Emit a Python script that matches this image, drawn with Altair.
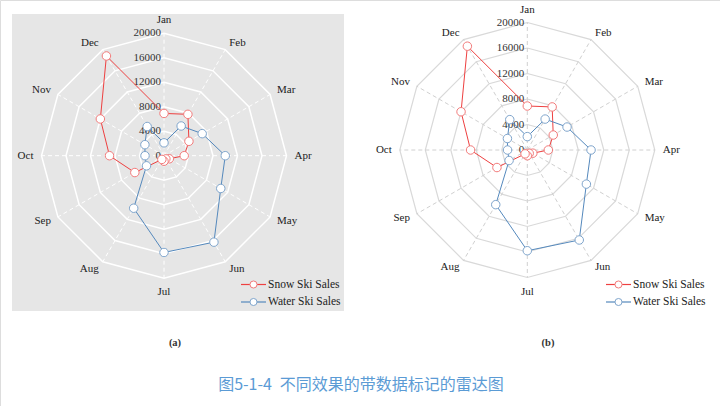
import altair as alt
import pandas as pd

months = ["Jan", "Feb", "Mar", "Apr", "May", "Jun", "Jul", "Aug", "Sep", "Oct", "Nov", "Dec"]
snow_sales = [6900, 7800, 4700, 3300, 1000, 600, 900, 700, 5500, 8900, 12000, 18800]
water_sales = [2100, 5600, 7200, 10000, 10700, 16300, 15800, 9900, 3300, 3100, 3600, 5500]
series_names = ["Snow Ski Sales", "Water Ski Sales"]
ticks = [0, 4000, 8000, 12000, 16000, 20000]
tick_labels = ["0", "4000", "8000", "12000", "16000", "20000"]
panel_labels = ["(a)", "(b)"]
caption = ["图5-1-4\u2002不同效果的带数据标记的雷达图"]

VMAX = 20000
SERIF = "Liberation Serif"
LINE_COLORS = ["#ee4040", "#5589bd"]
POINT_COLORS = ["#f27a7a", "#7fa5cc"]

# ---- tables built from the lists ----
rows = []
for name, vals in zip(series_names, [snow_sales, water_sales]):
    for k in range(13):
        i = k % 12
        rows.append({"series": name, "k": k, "idx": i, "month": months[i], "value": vals[i]})
series_df = pd.DataFrame(rows)

ring_df = pd.DataFrame([{"tick": t, "k": k} for t in ticks[1:] for k in range(13)])
spoke_df = pd.DataFrame({"idx": list(range(12)), "month": months})
tick_df = pd.DataFrame({"tick": ticks, "label": tick_labels})
legend_df = pd.DataFrame({"series": series_names, "i": [0, 1]})

xs = alt.Scale(domain=[0, 720], nice=False, zero=False)
ys = alt.Scale(domain=[0, 406], nice=False, zero=False, reverse=True)


def X(f="px"):
    return alt.X(f"{f}:Q", scale=xs, axis=None)


def Y(f="py"):
    return alt.Y(f"{f}:Q", scale=ys, axis=None)


def panel(cx, cy, R, grid_color, grid_width, spoke_color, lx, ly):
    layers = []
    ang = "PI / 6"
    # rings
    layers.append(
        alt.Chart(ring_df)
        .transform_calculate(
            px=f"{cx} + {R} * datum.tick / {VMAX} * sin(datum.k * {ang})",
            py=f"{cy} - {R} * datum.tick / {VMAX} * cos(datum.k * {ang})",
        )
        .mark_line(stroke=grid_color, strokeWidth=grid_width)
        .encode(x=X(), y=Y(), detail="tick:N", order="k:Q")
    )
    # spokes
    layers.append(
        alt.Chart(spoke_df)
        .transform_calculate(
            px=f"{cx}",
            py=f"{cy}",
            px2=f"{cx} + {R} * sin(datum.idx * {ang})",
            py2=f"{cy} - {R} * cos(datum.idx * {ang})",
        )
        .mark_rule(stroke=spoke_color, strokeWidth=1, strokeDash=[4, 3])
        .encode(x=X(), y=Y(), x2="px2:Q", y2="py2:Q")
    )
    # tick labels
    layers.append(
        alt.Chart(tick_df)
        .transform_calculate(px=f"{cx} - 3", py=f"{cy} - {R} * datum.tick / {VMAX}")
        .mark_text(align="right", baseline="middle", font=SERIF, fontSize=11, color="#333333")
        .encode(x=X(), y=Y(), text="label:N")
    )
    # month labels
    groups = [
        ("sin(datum.idx * PI / 6) < -0.1", "right", "middle"),
        ("sin(datum.idx * PI / 6) > 0.1", "left", "middle"),
        ("abs(sin(datum.idx * PI / 6)) <= 0.1 && cos(datum.idx * PI / 6) > 0", "center", "bottom"),
        ("abs(sin(datum.idx * PI / 6)) <= 0.1 && cos(datum.idx * PI / 6) < 0", "center", "top"),
    ]
    for cond, al, bl in groups:
        layers.append(
            alt.Chart(spoke_df)
            .transform_filter(cond)
            .transform_calculate(
                px=f"{cx} + {R + 8} * sin(datum.idx * {ang})",
                py=f"{cy} - {R + 8} * cos(datum.idx * {ang})",
            )
            .mark_text(align=al, baseline=bl, font=SERIF, fontSize=11, color="#222222")
            .encode(x=X(), y=Y(), text="month:N")
        )
    # series lines then points
    calc = dict(
        px=f"{cx} + {R} * datum.value / {VMAX} * sin(datum.idx * {ang})",
        py=f"{cy} - {R} * datum.value / {VMAX} * cos(datum.idx * {ang})",
    )
    for j, name in enumerate(series_names):
        layers.append(
            alt.Chart(series_df)
            .transform_filter(alt.datum.series == name)
            .transform_calculate(**calc)
            .mark_line(stroke=LINE_COLORS[j], strokeWidth=1)
            .encode(x=X(), y=Y(), order="k:Q")
        )
    for j, name in enumerate(series_names):
        layers.append(
            alt.Chart(series_df)
            .transform_filter((alt.datum.series == name) & (alt.datum.k < 12))
            .transform_calculate(**calc)
            .mark_point(shape="circle", size=72, fill="white", fillOpacity=1,
                        stroke=POINT_COLORS[j], strokeWidth=1, opacity=1)
            .encode(x=X(), y=Y())
        )
    # legend
    for j, name in enumerate(series_names):
        base = alt.Chart(legend_df).transform_filter(alt.datum.series == name)
        layers.append(
            base.transform_calculate(px=f"{lx}", px2=f"{lx + 25}", py=f"{ly} + datum.i * 17.5")
            .mark_rule(stroke=LINE_COLORS[j], strokeWidth=1.2)
            .encode(x=X(), x2="px2:Q", y=Y())
        )
        layers.append(
            base.transform_calculate(px=f"{lx + 12.5}", py=f"{ly} + datum.i * 17.5")
            .mark_point(shape="circle", size=50, fill="white", fillOpacity=1,
                        stroke=POINT_COLORS[j], strokeWidth=1, opacity=1)
            .encode(x=X(), y=Y())
        )
        layers.append(
            base.transform_calculate(px=f"{lx + 27}", py=f"{ly} + datum.i * 17.5")
            .mark_text(align="left", baseline="middle", font=SERIF, fontSize=11.5, color="#222222")
            .encode(x=X(), y=Y(), text="series:N")
        )
    return layers


dummy = pd.DataFrame({"t": [0]})
bg = alt.Chart(dummy).mark_rect(fill="#e6e6e6").encode(
    x=alt.value(12), x2=alt.value(344), y=alt.value(14), y2=alt.value(311)
)

layers_a = panel(164, 155.7, 122.5, "#ffffff", 1.5, "#ffffff", 241, 284.5)
layers_b = panel(527.3, 150, 127.5, "#d9d9d9", 1.2, "#d0d0d0", 606, 284.5)

plab = (
    alt.Chart(pd.DataFrame({"label": panel_labels, "i": [0, 1]}))
    .transform_calculate(px="datum.i == 0 ? 175 : 548", py="343")
    .mark_text(align="center", baseline="middle", font=SERIF, fontSize=10.5, fontWeight="bold", color="#333333")
    .encode(x=X(), y=Y(), text="label:N")
)
cap = (
    alt.Chart(pd.DataFrame({"t": caption}))
    .mark_text(align="center", baseline="middle", font="Noto Sans CJK SC", fontSize=16, color="#5b9bd5")
    .encode(x=alt.value(361), y=alt.value(385), text="t:N")
)

chart = (
    alt.layer(bg, *layers_a, *layers_b, plab, cap)
    .properties(width=720, height=406, padding=0, autosize=alt.AutoSizeParams(type="none"))
    .configure_view(stroke=None)
    .configure(background="white")
)

chart.save("out.html", embed_options={"renderer": "svg", "actions": False})
